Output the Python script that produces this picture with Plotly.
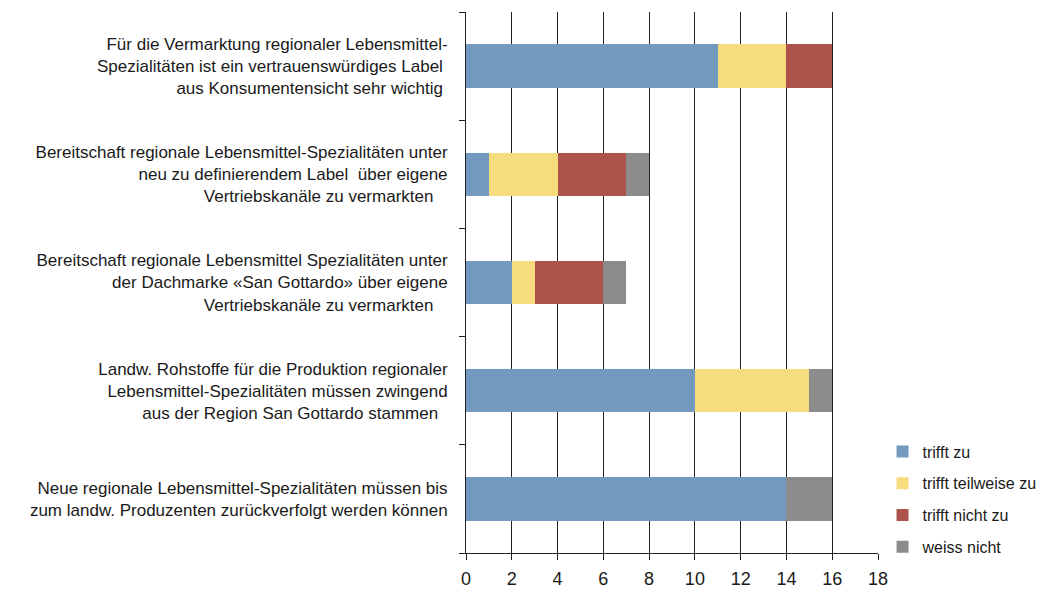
import plotly.graph_objects as go

categories = [
    "Für die Vermarktung regionaler Lebensmittel-<br>Spezialitäten ist ein vertrauenswürdiges Label <br>aus Konsumentensicht sehr wichtig ",
    "Bereitschaft regionale Lebensmittel-Spezialitäten unter<br>neu zu definierendem Label  über eigene<br>Vertriebskanäle zu vermarkten   ",
    "Bereitschaft regionale Lebensmittel Spezialitäten unter<br>der Dachmarke «San Gottardo» über eigene<br>Vertriebskanäle zu vermarkten   ",
    "Landw. Rohstoffe für die Produktion regionaler<br>Lebensmittel-Spezialitäten müssen zwingend<br>aus der Region San Gottardo stammen  ",
    "Neue regionale Lebensmittel-Spezialitäten müssen bis<br>zum landw. Produzenten zurückverfolgt werden können",
]
series_names = ["trifft zu", "trifft teilweise zu", "trifft nicht zu", "weiss nicht"]
trifft_zu = [11, 1, 2, 10, 14]
trifft_teilweise = [3, 3, 1, 5, 0]
trifft_nicht = [2, 3, 3, 0, 0]
weiss_nicht = [0, 1, 1, 1, 2]
colors = ["#7399BE", "#F7DC7E", "#AC534C", "#8C8C8C"]

fig = go.Figure()
for name, vals, col in zip(series_names, [trifft_zu, trifft_teilweise, trifft_nicht, weiss_nicht], colors):
    fig.add_trace(go.Bar(
        y=categories, x=vals, name=name, orientation="h",
        marker=dict(color=col, line=dict(width=0)),
        legendgroup=name,
    ))

font_family = "Liberation Sans, Arial"
fig.update_layout(
    barmode="stack",
    width=1042, height=584,
    margin=dict(l=458, r=172, t=4, b=39, autoexpand=False),
    plot_bgcolor="white", paper_bgcolor="white",
    font=dict(family=font_family, size=17, color="#1a1a1a"),
    bargap=0.6,
    showlegend=True,
    legend=dict(x=1.011, y=0.219, xanchor="left", yanchor="top",
                font=dict(size=16), tracegroupgap=8, traceorder="grouped"),
    xaxis=dict(range=[0, 18], tickvals=list(range(0, 19, 2)), showgrid=True,
               gridcolor="#222", gridwidth=1, showline=True, linecolor="#222",
               ticks="outside", ticklen=6, tickcolor="#222", zeroline=False,
               tickfont=dict(size=18), ticklabelstandoff=3),
    yaxis=dict(categoryorder="array", categoryarray=categories[::-1], showline=True,
               linecolor="#222", ticks="outside", ticklen=6, tickcolor="#222",
               tickson="boundaries", showgrid=False, ticklabelstandoff=14),
)
fig.write_html("out.html")
